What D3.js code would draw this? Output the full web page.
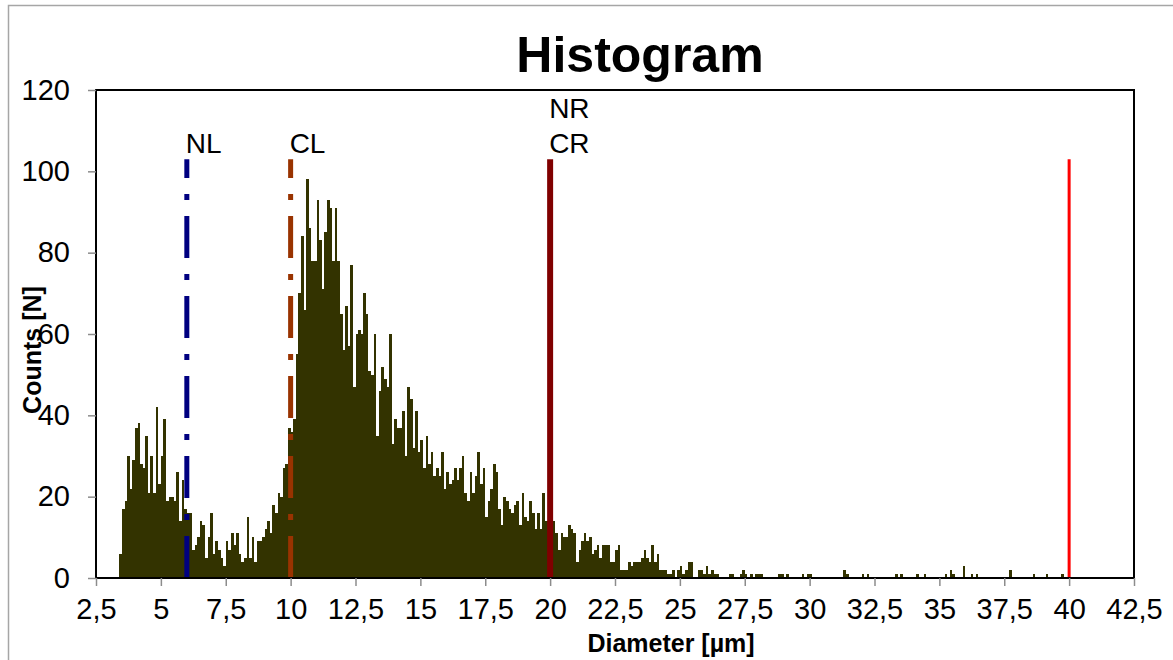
<!DOCTYPE html>
<html><head><meta charset="utf-8">
<script src="https://cdn.jsdelivr.net/npm/d3@7"></script>
<style>body{margin:0;background:#fff}text{font-family:"Liberation Sans",Arial,sans-serif}</style>
</head><body><svg id="c" width="1173" height="660"></svg>
<script>
// ---- data ----
const binStart = 3.4;   // left edge of first bin (µm)
const binWidth = 0.1;   // bin width (µm)
const counts = [
 6,17,19,30,22,29,37,38,28,27,
 35,21,30,21,42,23,30,39,19,20,
 20,19,26,14,24,17,16,16,7,8,
 10,14,13,5,10,16,6,9,7,5,
 3,9,7,11,8,11,6,4,5,15,
 5,10,4,9,9,10,12,14,11,18,
 16,21,20,27,28,37,36,39,55,70,
 84,66,98,86,78,78,93,83,71,85,
 93,91,78,91,78,65,56,67,57,77,
 47,60,61,60,70,65,51,50,60,35,
 46,52,49,47,60,33,39,37,37,41,
 30,47,44,32,41,31,34,27,35,28,
 31,25,27,25,31,22,26,23,24,27,
 24,27,30,21,19,26,21,25,31,23,
 27,15,19,22,28,26,17,13,20,19,
 17,16,18,19,13,21,15,14,19,16,
 12,16,12,21,14,16,12,14,11,7,
 11,10,10,13,12,11,4,7,9,11,
 9,10,6,7,8,5,8,8,8,4,
 4,7,8,2,2,2,4,3,4,4,
 4,5,7,5,4,8,4,6,2,2,
 2,1,1,2,0,2,3,1,2,4,
 4,0,0,2,2,1,3,1,2,1,
 1,0,0,0,0,1,1,0,0,1,
 2,1,0,1,0,1,1,1,0,0,
 0,0,0,0,1,1,0,1,0,0,
 0,0,0,1,0,1,1,0,0,0,
 0,0,0,0,0,0,0,0,0,2,
 1,0,0,0,0,0,1,0,1,0,
 0,0,0,0,0,0,0,0,0,1,
 0,1,0,0,0,0,0,1,0,0,
 1,0,0,0,0,0,0,0,1,0,
 2,1,0,0,0,3,0,0,1,0,
 1,0,0,0,0,0,0,0,0,0,
 0,0,0,2,0,0,0,0,0,0,
 0,0,1,0,0,0,0,1,0,0,
 0,0,0,1
];
const xTicks = [2.5,5,7.5,10,12.5,15,17.5,20,22.5,25,27.5,30,32.5,35,37.5,40,42.5];
const yTicks = [0,20,40,60,80,100,120];
const markerValues = [6,10,20,40];
const markerLabels = [["NL"],["CL"],["NR","CR"],[]];
const markerTop = 103;
const xDomain = [2.5,42.5];
const yDomain = [0,120];

// ---- drawing ----
const svg = d3.select("#c");
svg.append("rect").attr("x",8.5).attr("y",5.5).attr("width",1300).attr("height",800)
   .attr("fill","#fff").attr("stroke","#a6a6a6").attr("stroke-width",1.5);

const L=96,R=1134,T=90,B=578;
const x = d3.scaleLinear().domain(xDomain).range([L,R]);
const y = d3.scaleLinear().domain(yDomain).range([B,T]);

// bars (pixel-snapped so adjacent bins touch without seams)
const edge = i => Math.round(x(binStart+i*binWidth));
svg.append("g").attr("shape-rendering","crispEdges")
  .selectAll("rect").data(counts).join("rect")
  .attr("x",(d,i)=>edge(i))
  .attr("width",(d,i)=>edge(i+1)-edge(i))
  .attr("y",d=>Math.round(y(d)))
  .attr("height",d=>Math.round(y(0))-Math.round(y(d)))
  .attr("fill","#333300");

// marker lines
const mStyles = [
  {c:"#000080",w:5,dash:"42,16,6,16"},
  {c:"#993300",w:5,dash:"42,16,6,16"},
  {c:"#800000",w:6,dash:null},
  {c:"#ff0000",w:3,dash:null}
];
markerValues.forEach((v,i)=>{
  const s=mStyles[i];
  const ln=svg.append("line").attr("x1",x(v)).attr("x2",x(v))
    .attr("y1",y(0)).attr("y2",y(markerTop))
    .attr("stroke",s.c).attr("stroke-width",s.w);
  if(s.dash) ln.attr("stroke-dasharray",s.dash);
  const labs=markerLabels[i];
  labs.forEach((t,j)=>{
    svg.append("text").attr("x",x(v)-1)
      .attr("y", 153 - (labs.length-1-j)*35)
      .attr("font-size",28).attr("fill","#000").text(t);
  });
});

// frame
svg.append("rect").attr("x",L).attr("y",T).attr("width",R-L).attr("height",B-T)
  .attr("fill","none").attr("stroke","#000").attr("stroke-width",2);

// axes
const fmt = d=>String(d).replace(".",",");
const gx = svg.append("g").attr("transform",`translate(0,${B})`)
  .call(d3.axisBottom(x).tickValues(xTicks).tickFormat(fmt).tickSize(8).tickPadding(12));
const gy = svg.append("g").attr("transform",`translate(${L},0)`)
  .call(d3.axisLeft(y).tickValues(yTicks).tickSize(8).tickPadding(18));
[gx,gy].forEach(g=>{
  g.select(".domain").remove();
  g.selectAll(".tick line").attr("stroke","#8c8c8c").attr("stroke-width",1.5);
  g.selectAll(".tick text").attr("font-size",29).attr("fill","#000")
    .attr("font-family",'"Liberation Sans",Arial,sans-serif');
});

// titles
svg.append("text").attr("x",640).attr("y",72).attr("text-anchor","middle")
  .attr("font-size",50).attr("font-weight","bold").text("Histogram");
svg.append("text").attr("x",671).attr("y",652).attr("text-anchor","middle")
  .attr("font-size",25).attr("font-weight","bold").text("Diameter [µm]");
svg.append("text").attr("transform","translate(41,350) rotate(-90)").attr("text-anchor","middle")
  .attr("font-size",25).attr("font-weight","bold").text("Counts [N]");
</script></body></html>
